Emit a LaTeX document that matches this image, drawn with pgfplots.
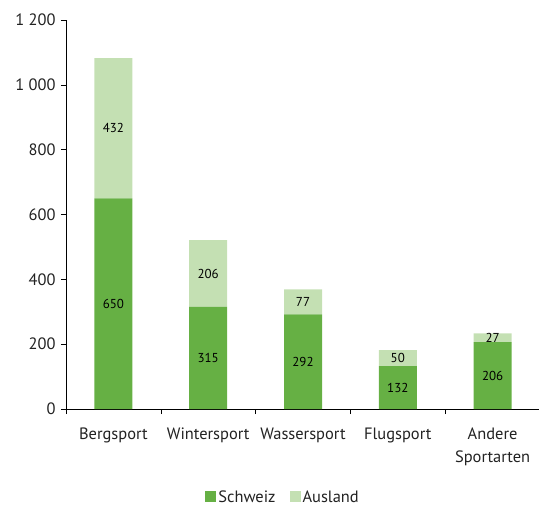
\documentclass[border=0pt]{standalone}
\usepackage{pgfplots}
\pgfplotsset{compat=1.18}
\usepackage{fontspec}
\setmainfont{PT Sans}
\definecolor{schweiz}{HTML}{66B044}
\definecolor{ausland}{HTML}{C4E0B3}
\definecolor{txt}{HTML}{222222}
\begin{document}
\begin{tikzpicture}
\useasboundingbox (-66bp,-100bp) rectangle (473bp,409bp);
\begin{axis}[
  at={(0,0)}, anchor=south west,
  scale only axis, width=474bp, height=389bp,
  ybar stacked, bar width=38bp,
  xmin=-0.5, xmax=4.5, ymin=0, ymax=1200,
  axis x line*=bottom, axis y line*=left,
  axis line style={black, line width=0.7pt, -},
  ytick={0,200,...,1200},
  xtick={0,...,4},
  xticklabels={Bergsport, Wintersport, Wassersport, Flugsport, {Andere\\Sportarten}},
  minor xtick={-0.5,0.5,...,4.5},
  tick align=outside,
  major tick length=5bp, minor tick length=5bp,
  major x tick style={draw=none},
  every tick/.style={black, line width=0.6pt},
  minor tick style={black, line width=0.6pt},
  x tick label style={align=center, font=\fontsize{16.5}{23}\selectfont, text=txt, yshift=-10bp},
  y tick label style={font=\fontsize{16.5}{19}\selectfont, text=txt, xshift=-2bp},
  /pgf/number format/assume math mode=true,
  /pgf/number format/1000 sep={\ },
  scaled y ticks=false,
  nodes near coords,
  every node near coord/.append style={anchor=center, font=\fontsize{13}{15}\selectfont, text=black},
  legend style={at={(0.458,-0.226)}, anchor=center, draw=none, legend columns=2,
    font=\fontsize{16.5}{19}\selectfont, text=txt, inner sep=1bp,
    /tikz/every even column/.append style={column sep=12bp}},
  legend image code/.code={\fill[#1] (0bp,-5bp) rectangle (11bp,6bp);},
]
\addplot[fill=schweiz, draw=none] coordinates {(0,650) (1,315) (2,292) (3,132) (4,206)};
\addplot[fill=ausland, draw=none] coordinates {(0,432) (1,206) (2,77) (3,50) (4,27)};
\legend{Schweiz, Ausland}
\end{axis}
\end{tikzpicture}
\end{document}
